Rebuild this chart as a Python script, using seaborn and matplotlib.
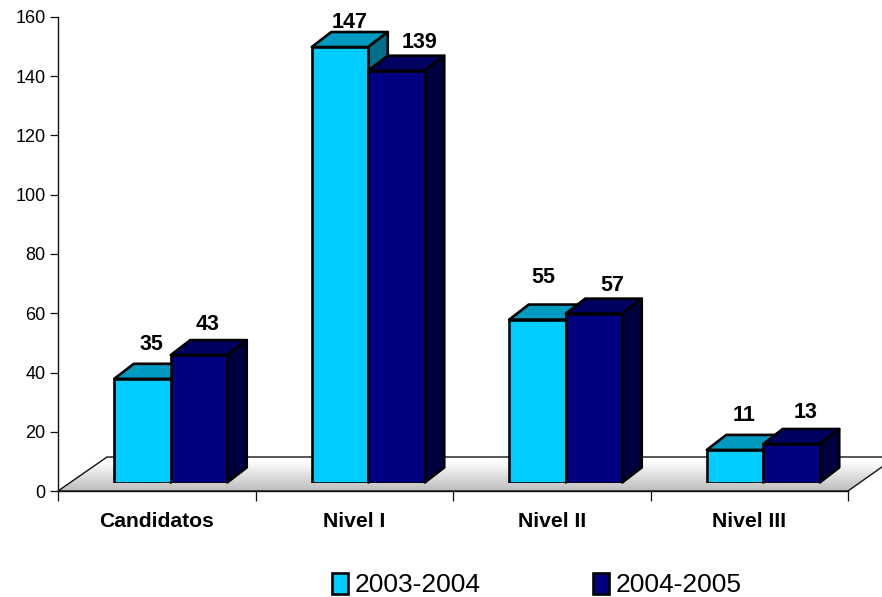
import numpy as np
import pandas as pd
import matplotlib
matplotlib.use('Agg')
import matplotlib.pyplot as plt
import seaborn as sns
from matplotlib.patches import Patch, Polygon

categories = ['Candidatos', 'Nivel I', 'Nivel II', 'Nivel III']
periods = ['2003-2004', '2004-2005']
values_2003 = [35, 147, 55, 11]
values_2004 = [43, 139, 57, 13]
y_ticks = [0, 20, 40, 60, 80, 100, 120, 140, 160]

front_colors = ['#00CCFF', '#000080']
top_colors = ['#0099BF', '#000060']
side_colors = ['#006F8C', '#000040']

# hand placed label offsets from the top centre of each bar, pixels
label_dx = [[9, 10, 6, 9], [9, 23, 18, 14]]
label_dy = [[34, 25, 42, 34], [31, 28, 28, 31]]

W, H = 882, 597
DEPTH = (19.5, 15)

sns.set_theme(style='white')
plt.rcParams['font.family'] = ['Liberation Sans', 'DejaVu Sans']

df = pd.DataFrame({
    'categoria': categories * 2,
    'periodo': [periods[0]] * 4 + [periods[1]] * 4,
    'valor': values_2003 + values_2004,
})

fig = plt.figure(figsize=(W / 100, H / 100), dpi=100)


def axes_px(left, right, top, bottom):
    return fig.add_axes([left / W, 1 - bottom / H, (right - left) / W, (bottom - top) / H])


# floor
bg = fig.add_axes([0, 0, 1, 1])
bg.set_xlim(0, W)
bg.set_ylim(H, 0)
bg.axis('off')
floor_pts = [(58, 491), (848, 491), (896, 457), (107, 457)]
grad = np.interp(np.linspace(0, 1, 64), [0, 0.12, 1], [1, 1, 0.74]).reshape(-1, 1)
im = bg.imshow(grad, cmap='gray', vmin=0, vmax=1, extent=(58, 896, 491, 457), aspect='auto')
floor = Polygon(floor_pts, closed=True, fc='none', ec='#111111', lw=1.0)
bg.add_patch(floor)
im.set_clip_path(floor)
bg.set_xlim(0, W)
bg.set_ylim(H, 0)

# value axis
ax = axes_px(58, 848, 17, 491)
ax.patch.set_alpha(0)
ax.set_xlim(-0.5, 3.5)
ax.set_ylim(0, 160)
ax.set_yticks(y_ticks)
ax.set_xticks(np.arange(-0.5, 4, 1))
ax.set_xticklabels([])
ax.set_xticks(range(4), categories, minor=True, fontsize=15.2, fontweight='bold', color='black')
ax.tick_params(axis='x', which='major', length=7, width=0.9, color='#111111', bottom=True)
ax.tick_params(axis='x', which='minor', length=0, bottom=True, pad=15)
ax.tick_params(axis='y', length=6, width=0.9, color='#111111', left=True, labelsize=13, labelcolor='black', pad=3)
sns.despine(ax=ax)
for s in ['left', 'bottom']:
    ax.spines[s].set_color('#111111')
    ax.spines[s].set_linewidth(1.0)

# bars, front faces sit in the middle of the floor
bar_ax = axes_px(72, 862, 8.5, 482.5)
bar_ax.patch.set_alpha(0)
sns.barplot(data=df, x='categoria', y='valor', hue='periodo', order=categories, hue_order=periods,
            palette=front_colors, width=0.572, gap=0, saturation=1, legend=False, ax=bar_ax,
            edgecolor='black', linewidth=1.9)
bar_ax.set_xlim(-0.5, 3.5)
bar_ax.set_ylim(0, 160)
bar_ax.axis('off')
fig.canvas.draw()

for i, container in enumerate(bar_ax.containers):
    for j, bar in enumerate(container):
        bar.set_zorder(3 + 2 * i)
        x0, y0 = bar.get_x(), bar.get_height()
        x1 = x0 + bar.get_width()
        (px0, ptop), (px1, pbase) = bar_ax.transData.transform([(x0, y0), (x1, 0)])
        dx, dy = DEPTH
        top = [(px0, ptop), (px1, ptop), (px1 + dx, ptop + dy), (px0 + dx, ptop + dy)]
        side = [(px1, ptop), (px1 + dx, ptop + dy), (px1 + dx, pbase + dy), (px1, pbase)]
        for pts, col in [(top, top_colors[i]), (side, side_colors[i])]:
            bar_ax.add_patch(Polygon(pts, closed=True, fc=col, ec='black', lw=1.9, joinstyle='round',
                                     transform=None, zorder=2 + 2 * i, clip_on=False))
        bar_ax.annotate(str(int(y0)), xy=((x0 + x1) / 2, y0),
                        xytext=(label_dx[i][j], label_dy[i][j]), textcoords='offset pixels',
                        ha='center', va='center', fontsize=15.5, fontweight='bold', color='black',
                        annotation_clip=False, zorder=10)

handles = [Patch(fc=front_colors[k], ec='black', lw=1.9, label=periods[k]) for k in range(2)]
fig.legend(handles=handles, ncol=2, loc='center', bbox_to_anchor=(537 / W, 1 - 585 / H), frameon=False,
           fontsize=19, handlelength=0.6, handleheight=0.85, handletextpad=0.26, columnspacing=4.24,
           borderpad=0, labelcolor='black')

fig.savefig('out.png', dpi=100)
